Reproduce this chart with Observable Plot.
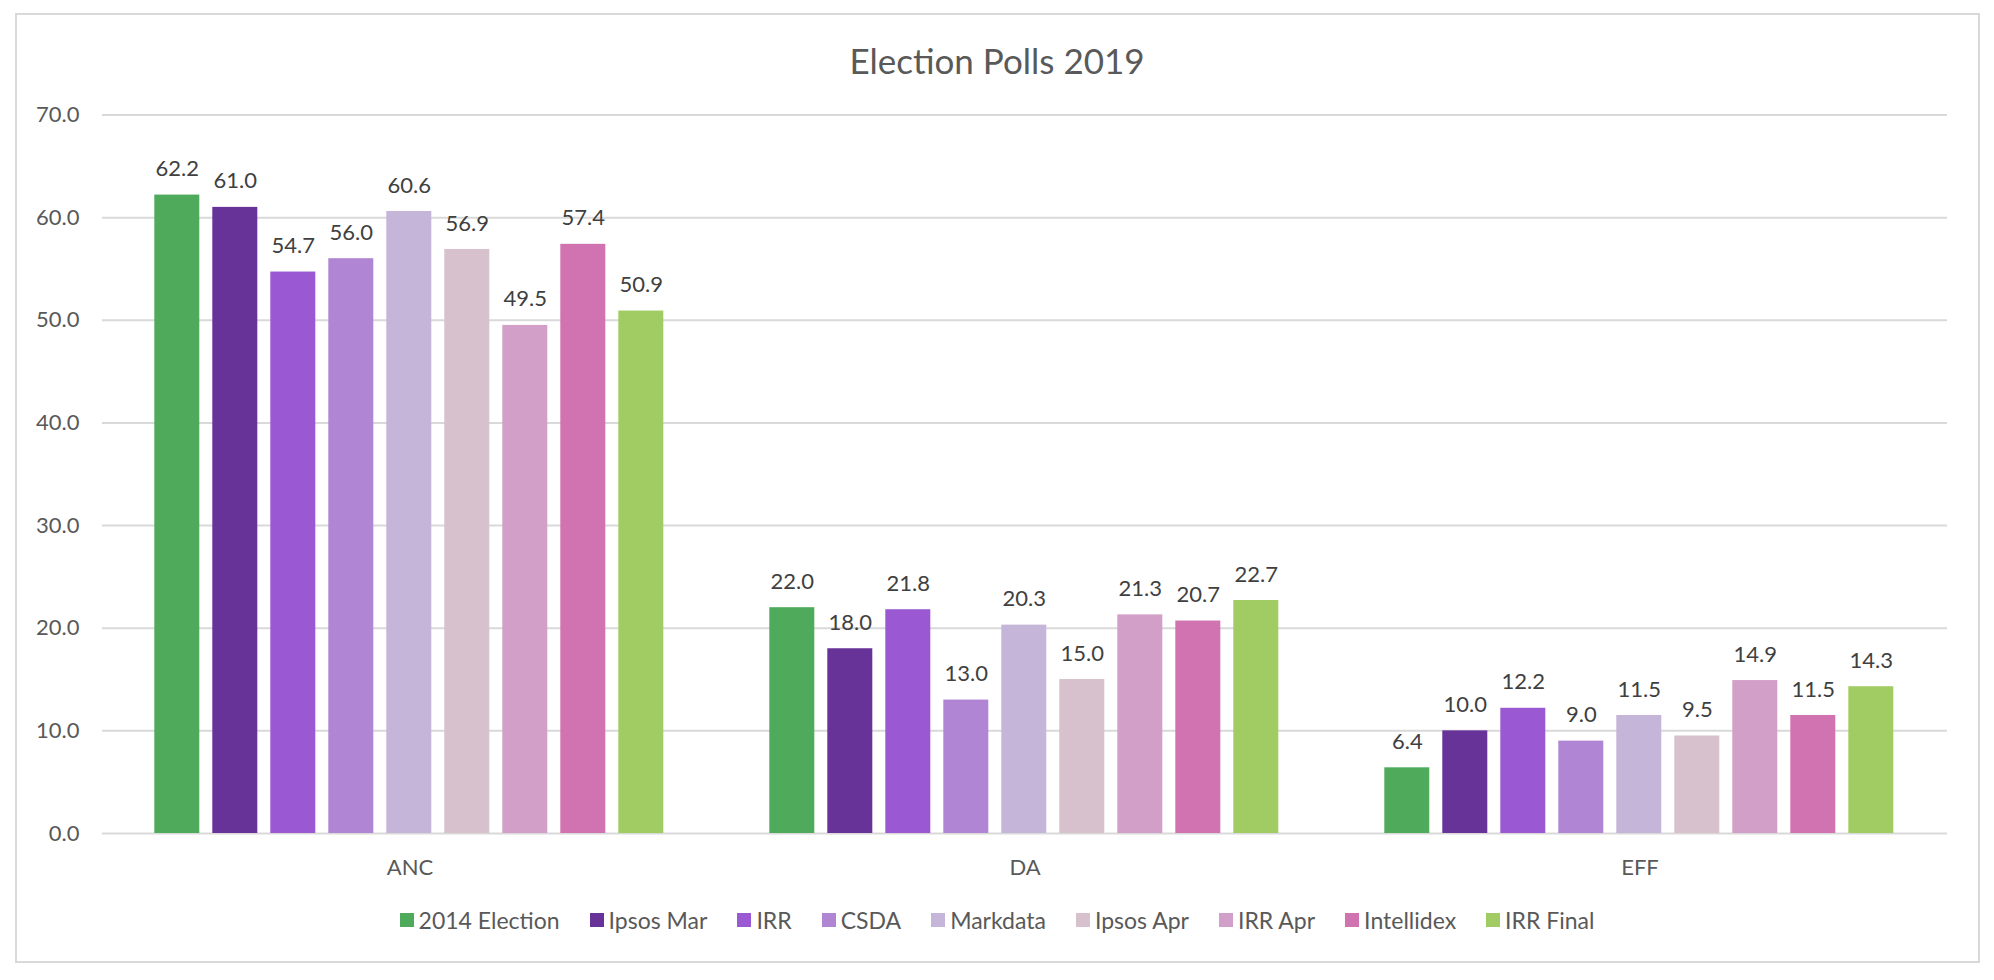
<!DOCTYPE html>
<html>
<head>
<meta charset="utf-8">
<script src="https://cdn.jsdelivr.net/npm/d3@7"></script>
<script src="https://cdn.jsdelivr.net/npm/@observablehq/plot@0.6"></script>
<style>
  html, body { margin: 0; padding: 0; background: #ffffff; }
  #page { position: relative; width: 1994px; height: 980px; overflow: hidden; font-family: Lato, "Open Sans", sans-serif; }
  #frame { position: absolute; left: 15px; top: 13px; width: 1965px; height: 950px; box-sizing: border-box; border: 2px solid #D9D9D9; }
  #title { position: absolute; left: 0; top: 38px; width: 1994px; height: 44px; line-height: 44px; text-align: center; font-size: 35px; color: #595959; }
  #chart { position: absolute; left: 0; top: 80px; }
  #legend { position: absolute; left: 0; top: 904px; width: 1994px; height: 32px; display: flex; justify-content: center; align-items: center; gap: 30px; font-size: 23px; color: #595959; }
  .item { display: flex; align-items: center; white-space: nowrap; }
  .sw { width: 14px; height: 14px; margin-right: 5px; display: inline-block; }
</style>
</head>
<body>
<div id="page">
  <div id="frame"></div>
  <div id="title">Election Polls 2019</div>
  <div id="chart"></div>
  <div id="legend"></div>
</div>
<script>
const categories = ["ANC", "DA", "EFF"];
const series = ["2014 Election", "Ipsos Mar", "IRR", "CSDA", "Markdata", "Ipsos Apr", "IRR Apr", "Intellidex", "IRR Final"];
const seriesColors = ["#4FAB5B", "#673399", "#9A59D3", "#B086D4", "#C5B5D8", "#D6C1CC", "#D29FC8", "#D273B1", "#A1CC63"];
const ancValues = [62.2, 61.0, 54.7, 56.0, 60.6, 56.9, 49.5, 57.4, 50.9];
const daValues = [22.0, 18.0, 21.8, 13.0, 20.3, 15.0, 21.3, 20.7, 22.7];
const effValues = [6.4, 10.0, 12.2, 9.0, 11.5, 9.5, 14.9, 11.5, 14.3];
const yTicks = [0, 10, 20, 30, 40, 50, 60, 70];

const valuesByCategory = [ancValues, daValues, effValues];
const rows = categories.flatMap((c, i) =>
  series.map((s, j) => ({ category: c, series: s, value: valuesByCategory[i][j] }))
);

const fmt = d3.format(".1f");

const chart = Plot.plot({
  width: 1994,
  height: 820,
  marginTop: 34.5,
  marginBottom: 67,
  marginLeft: 100.7,
  marginRight: 46,
  style: { fontFamily: "Lato, 'Open Sans', sans-serif", fontSize: "22px", color: "#595959", background: "transparent", overflow: "visible" },
  fx: { domain: categories, padding: 0, axis: "bottom", tickSize: 0, tickPadding: 26, label: null },
  x: { domain: series, axis: null, paddingInner: 0.217, paddingOuter: 0.85 },
  y: { domain: [0, 70], ticks: yTicks, tickFormat: fmt, tickSize: 0, tickPadding: 23, label: null },
  color: { domain: series, range: seriesColors },
  marks: [
    Plot.ruleY(yTicks, { stroke: "#D9D9D9", strokeWidth: 2 }),
    Plot.barY(rows, { fx: "category", x: "series", y: "value", fill: "series" }),
    Plot.text(rows, { fx: "category", x: "series", y: "value", text: d => fmt(d.value), dy: -26, fill: "#404040", fontSize: 22 })
  ]
});
document.getElementById("chart").appendChild(chart);

const legend = document.getElementById("legend");
series.forEach((s, j) => {
  const item = document.createElement("div");
  item.className = "item";
  const sw = document.createElement("span");
  sw.className = "sw";
  sw.style.background = seriesColors[j];
  const label = document.createElement("span");
  label.textContent = s;
  item.appendChild(sw);
  item.appendChild(label);
  legend.appendChild(item);
});
</script>
</body>
</html>
